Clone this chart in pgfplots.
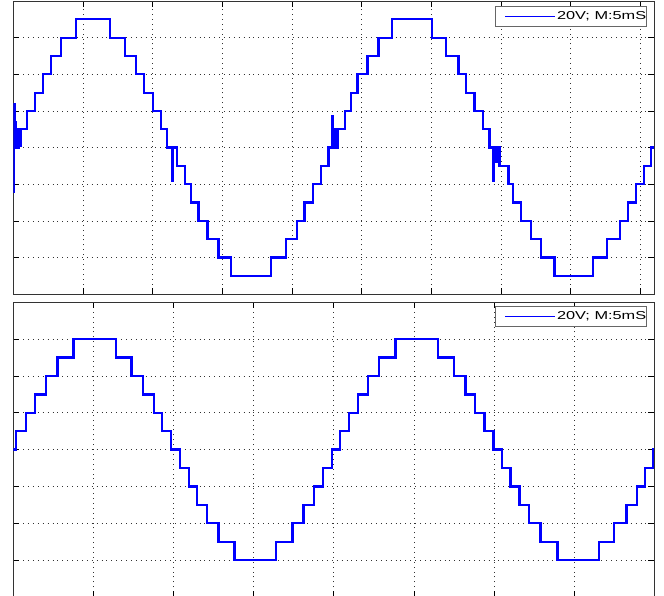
\documentclass[border=0pt]{standalone}
\usepackage{pgfplots}
\pgfplotsset{compat=1.18}
\usepackage{fontspec}
\setmainfont{Liberation Sans}
\usepackage{graphicx}
\definecolor{mblue}{RGB}{0,0,255}
\pgfplotsset{
  osc/.style={
    scale only axis, width=641pt,
    xmin=0, ymin=-80, ymax=80,
    xtick distance=5, ytick distance=20,
    xticklabels={}, yticklabels={},
    tick align=inside, major tick length=6pt,
    tick style={black, line width=0.8pt},
    grid=major,
    major grid style={black!80, line width=0.7pt, dash pattern=on 0.9pt off 4pt},
    axis line style={black!80, line width=0.9pt},
    legend image code/.code={\draw[mblue, line width=1.4pt] (10pt,0pt) -- (60pt,0pt); \path[draw=none, fill=none] (0pt,-10pt) rectangle (61.7pt,10pt);},
  },
  legbox/.style={legend style={at={(rel axis cs:1,1)}, xshift=-7.6pt, yshift=#1, anchor=north east,
      draw=black!60, line width=0.9pt, inner sep=0pt, nodes={inner sep=0pt}}},
  wave/.style={const plot, draw=mblue, line width=2.3pt, line join=miter},
}
\newcommand{\legtext}{\scalebox{1.42}[1]{\fontsize{11.5}{13}\selectfont 20V; M:5mS}\hspace{6pt}}
\begin{document}
\begin{tikzpicture}
\begin{axis}[osc, legbox=-5pt, at={(13.3pt,301.7pt)}, anchor=south west, height=293.3pt, xmax=46.01]
\addplot[wave] coordinates {
(0,-24) (0.01,24) (0.12,14) (0.18,0) (0.26,10) (0.32,0) (0.40,10) (0.47,1) (0.52,10)
(0.98,20) (1.58,30) (2.13,40) (2.70,50) (3.44,60) (4.52,70)
(6.96,60) (8.04,50) (8.80,40) (9.40,30) (10.02,20) (10.60,10) (11.03,0)
(11.39,-18) (11.43,0) (11.75,-10) (12.34,-20) (12.77,-30) (13.30,-40) (13.94,-50) (14.73,-60) (15.64,-70)
(18.49,-60) (19.57,-50) (20.36,-40) (20.91,-30) (21.51,-20) (22.10,-10) (22.63,0)
(22.89,17) (22.96,0) (23.00,10) (23.06,2) (23.12,10) (23.17,0) (23.27,10)
(23.83,20) (24.26,30) (24.71,40) (25.43,50) (26.22,60) (27.18,70)
(30.07,60) (31.08,50) (31.96,40) (32.51,30) (33.11,20) (33.71,10) (34.18,0)
(34.45,-18) (34.50,0) (34.55,-8) (34.63,0) (34.70,-8) (34.77,0) (34.90,-10)
(35.55,-20) (35.87,-30) (36.44,-40) (37.16,-50) (37.87,-60) (38.85,-70)
(41.61,-60) (42.61,-50) (43.57,-40) (44.12,-30) (44.72,-20) (45.29,-10) (45.77,0) (46.01,0)
};
\addlegendentry{\legtext}
\end{axis}
\begin{axis}[osc, legbox=-3.7pt, at={(13.3pt,-1pt)}, anchor=south west, height=294.7pt, xmax=40]
\addplot[wave] coordinates {
(0,0) (0.17,10) (0.79,20) (1.37,30) (2.03,40) (2.76,50) (3.76,60)
(6.39,50) (7.37,40) (8.11,30) (8.77,20) (9.29,10) (9.85,0)
(10.39,-10) (10.95,-20) (11.47,-30) (12.09,-40) (12.81,-50) (13.81,-60)
(16.40,-50) (17.42,-40) (18.10,-30) (18.77,-20) (19.31,-10) (19.87,0)
(20.38,10) (20.96,20) (21.52,30) (22.15,40) (22.83,50) (23.85,60)
(26.50,50) (27.48,40) (28.22,30) (28.83,20) (29.40,10) (29.96,0)
(30.48,-10) (31.03,-20) (31.58,-30) (32.20,-40) (32.89,-50) (33.96,-60)
(36.55,-50) (37.49,-40) (38.26,-30) (38.94,-20) (39.42,-10) (39.94,0) (40,0)
};
\addlegendentry{\legtext}
\end{axis}
\pgfresetboundingbox
\useasboundingbox (0,0) rectangle (664pt,596pt);
\end{tikzpicture}
\end{document}
